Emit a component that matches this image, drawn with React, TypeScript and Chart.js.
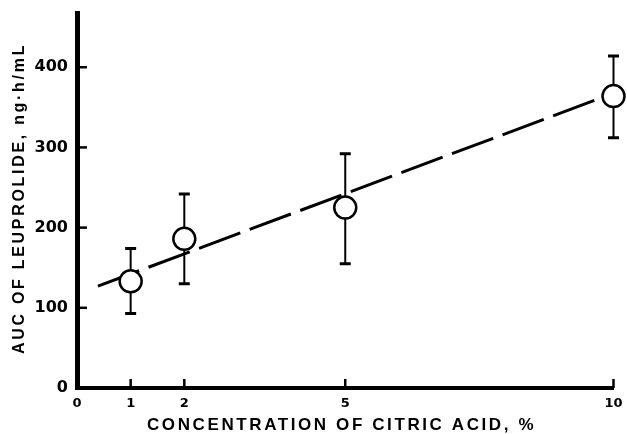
import React, { useEffect, useRef } from "react";
import { Chart, registerables } from "chart.js";

Chart.register(...registerables);

// ---- data ----
const concentration = [1, 2, 5, 10];
const aucMean = [133, 186, 225, 364];
const aucUpper = [174, 242, 292, 414];
const aucLower = [93, 130, 155, 312];
const fitX = [0.39, 9.78];
const fitY = [127, 362];
const xTicks = [0, 1, 2, 5, 10];
const yTicks = [0, 100, 200, 300, 400];
const xTitle = "CONCENTRATION OF CITRIC ACID, %";
const yTitle = "AUC OF LEUPROLIDE, ng·h/mL";

const decorPlugin = {
  id: "decor",
  beforeDatasetsDraw(chart: any) {
    const { ctx, scales } = chart;
    const x = scales.x;
    const y = scales.y;
    ctx.save();
    ctx.strokeStyle = "#000";
    concentration.forEach((c, i) => {
      const px = x.getPixelForValue(c);
      const top = y.getPixelForValue(aucUpper[i]);
      const bot = y.getPixelForValue(aucLower[i]);
      ctx.lineWidth = 2;
      ctx.beginPath();
      ctx.moveTo(px, top);
      ctx.lineTo(px, bot);
      ctx.stroke();
      ctx.lineWidth = 3;
      ctx.beginPath();
      ctx.moveTo(px - 5.5, top);
      ctx.lineTo(px + 5.5, top);
      ctx.moveTo(px - 5.5, bot);
      ctx.lineTo(px + 5.5, bot);
      ctx.stroke();
    });
    ctx.restore();
  },
  afterDraw(chart: any) {
    const { ctx, scales, chartArea } = chart;
    const x = scales.x;
    const y = scales.y;
    ctx.save();
    ctx.strokeStyle = "#000";
    ctx.lineWidth = 2.5;
    // inward tick marks
    yTicks.forEach((v) => {
      if (v === 0) return;
      const py = y.getPixelForValue(v);
      ctx.beginPath();
      ctx.moveTo(chartArea.left, py);
      ctx.lineTo(chartArea.left + 10, py);
      ctx.stroke();
    });
    xTicks.forEach((v) => {
      if (v === 0) return;
      const px = x.getPixelForValue(v);
      ctx.beginPath();
      ctx.moveTo(px, chartArea.bottom);
      ctx.lineTo(px, chartArea.bottom - 9);
      ctx.stroke();
    });
    // axis titles
    ctx.fillStyle = "#000";
    ctx.textAlign = "center";
    ctx.textBaseline = "middle";
    const ySp = 2.7;
    ctx.font = 'bold 16px "Liberation Sans", Arial, sans-serif';
    (ctx as any).letterSpacing = ySp + "px";
    ctx.save();
    ctx.translate(20, (chartArea.top + chartArea.bottom) / 2 - 1);
    ctx.rotate(-Math.PI / 2);
    ctx.fillText(yTitle, ySp / 2, 0);
    ctx.restore();
    const xSp = 2.6;
    ctx.font = 'bold 17px "Liberation Sans", Arial, sans-serif';
    (ctx as any).letterSpacing = xSp + "px";
    ctx.fillText(xTitle, (chartArea.left + chartArea.right) / 2 - 5 + xSp / 2, 425);
    (ctx as any).letterSpacing = "0px";
    ctx.restore();
  },
};

export default function App() {
  const canvasRef = useRef<HTMLCanvasElement | null>(null);

  useEffect(() => {
    if (!canvasRef.current) return;
    const chart = new Chart(canvasRef.current, {
      type: "scatter",
      data: {
        datasets: [
          {
            label: "AUC",
            data: concentration.map((c, i) => ({ x: c, y: aucMean[i] })),
            pointStyle: "circle",
            pointRadius: 11,
            pointHoverRadius: 11,
            pointBorderWidth: 2.5,
            pointBackgroundColor: "#fff",
            pointBorderColor: "#000",
            showLine: false,
            clip: false,
          } as any,
          {
            label: "Fit",
            type: "line",
            data: fitX.map((v, i) => ({ x: v, y: fitY[i] })),
            borderColor: "#000",
            borderWidth: 3,
            borderDash: [44, 10],
            pointRadius: 0,
            fill: false,
            clip: false,
          } as any,
        ],
      },
      options: {
        animation: false,
        responsive: true,
        maintainAspectRatio: false,
        events: [],
        layout: { padding: { top: 12, right: 13, left: 0, bottom: 0 } },
        plugins: {
          legend: { display: false },
          tooltip: { enabled: false },
        },
        scales: {
          x: {
            type: "linear",
            min: 0,
            max: 10,
            afterFit: (s: any) => {
              s.height = 46;
              s.paddingLeft = 0;
              s.paddingRight = 0;
            },
            afterBuildTicks: (s: any) => {
              s.ticks = xTicks.map((v) => ({ value: v }));
            },
            grid: { display: false, drawTicks: false },
            border: { display: true, width: 4, color: "#000" },
            ticks: {
              padding: 8,
              color: "#000",
              autoSkip: false,
              maxRotation: 0,
              font: { family: '"DejaVu Sans", sans-serif', size: 13, weight: "bold" },
              callback: (v: any) => String(v),
            },
          },
          y: {
            type: "linear",
            min: 0,
            max: 467,
            afterFit: (s: any) => {
              s.width = 77;
              s.paddingTop = 0;
              s.paddingBottom = 0;
            },
            afterBuildTicks: (s: any) => {
              s.ticks = yTicks.map((v) => ({ value: v }));
            },
            grid: { display: false, drawTicks: false },
            border: { display: true, width: 5, color: "#000" },
            ticks: {
              padding: 9,
              color: "#000",
              font: { family: '"DejaVu Sans", sans-serif', size: 16, weight: "bold" },
              callback: (v: any) => String(v),
            },
          },
        },
      },
      plugins: [decorPlugin],
    });
    return () => chart.destroy();
  }, []);

  return (
    <div style={{ position: "absolute", left: 0, top: 0, width: 627, height: 434, background: "#fff" }}>
      <canvas ref={canvasRef} />
    </div>
  );
}
